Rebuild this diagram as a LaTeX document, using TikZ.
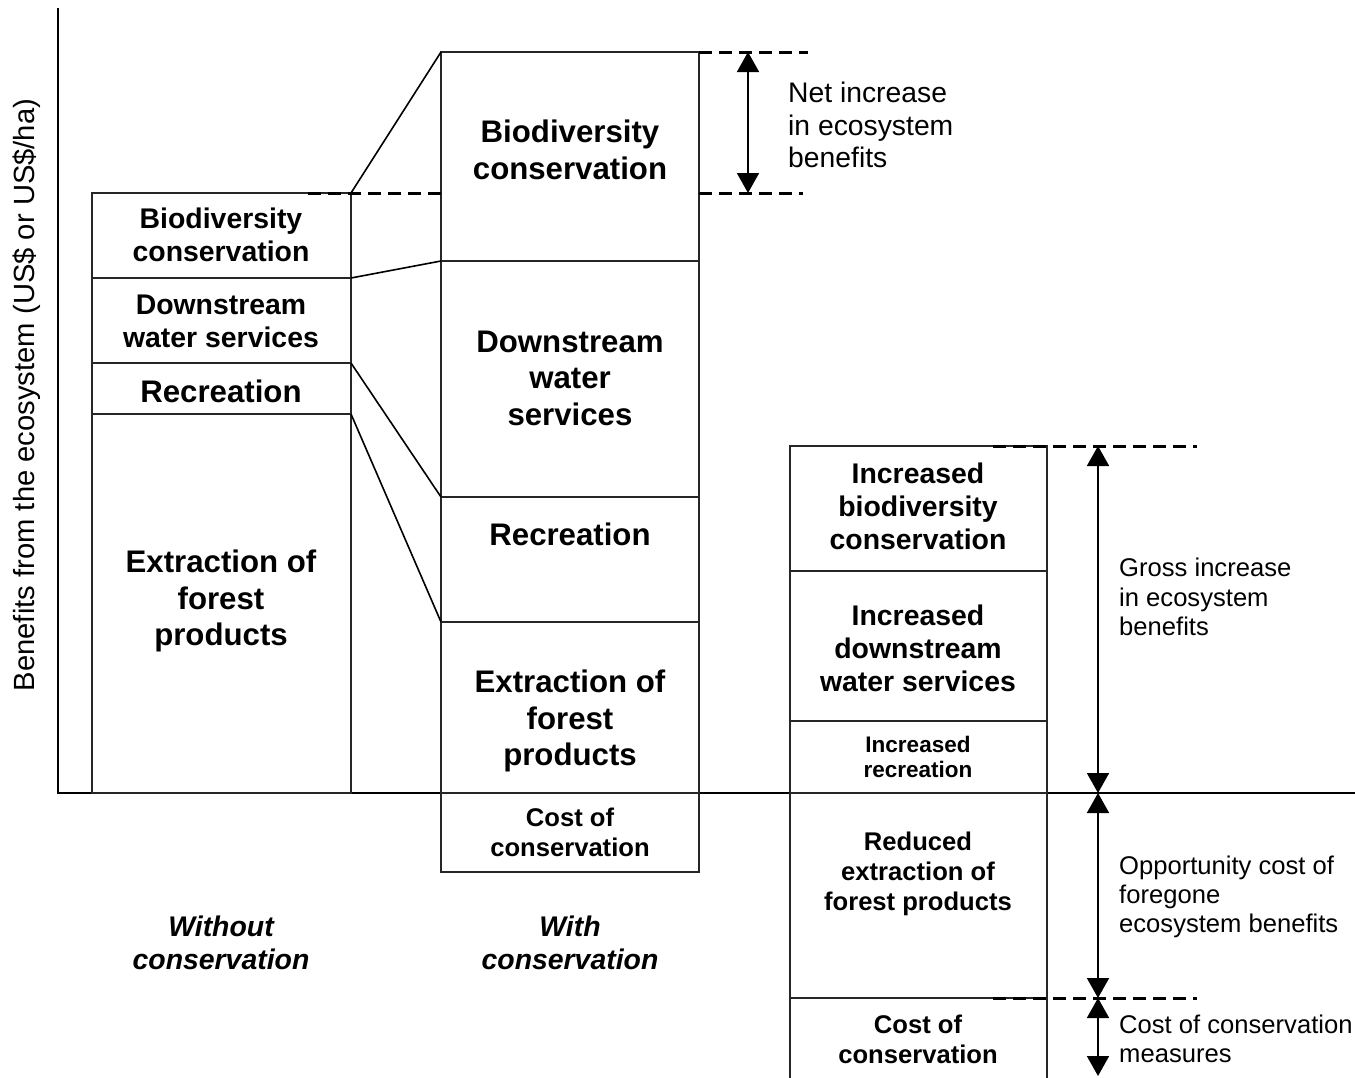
\documentclass[tikz,border=0pt]{standalone}
\usepackage{fontspec}
\setmainfont{Liberation Sans}
\usetikzlibrary{arrows.meta}
\newcommand\lblA{\fontsize{31.2}{36.5}\selectfont\bfseries}
\newcommand\lblB{\fontsize{28.4}{33}\selectfont\bfseries}
\newcommand\lblC{\fontsize{25.6}{30}\selectfont\bfseries}
\newcommand\lblD{\fontsize{22.5}{25.5}\selectfont\bfseries}
\newcommand\txtA{\fontsize{28.3}{32.5}\selectfont}
\newcommand\txtB{\fontsize{25.6}{29.3}\selectfont}
\newcommand\txtY{\fontsize{29.2}{33}\selectfont}
\begin{document}
\begin{tikzpicture}[x=1pt,y=-1pt,
  box/.style={draw=black!85,line width=1.6pt,inner sep=0pt,outer sep=0pt,anchor=north west},
  conn/.style={draw=black,line width=1.6pt},
  guide/.style={draw=black,line width=3pt,dash pattern=on 13pt off 7pt},
  dimarrow/.style={draw=black,line width=1.8pt,{Triangle[length=20pt,width=22pt]}-{Triangle[length=20pt,width=22pt]}},
  boxtext/.style={align=center,inner sep=0pt},
  note/.style={align=left,inner sep=0pt,anchor=west,font=\txtB}]
\useasboundingbox (0,0) rectangle (1355,1077);

% axes
\coordinate (ytop) at (58,8);
\coordinate (orig) at (58,793);
\coordinate (xend) at (1355,793);
\draw[line width=1.8pt] (ytop) -- (orig) -- (xend);
\node[rotate=90,inner sep=0pt,font=\txtY] (ylab) at (27,395) {Benefits from the ecosystem (US\$ or US\$/ha)};

% column without conservation
\node[box,minimum width=259pt,minimum height=85pt]  (L1) at (92,193) {};
\node[box,minimum width=259pt,minimum height=85pt]  (L2) at (92,278) {};
\node[box,minimum width=259pt,minimum height=51pt]  (L3) at (92,363) {};
\node[box,minimum width=259pt,minimum height=379pt] (L4) at (92,414) {};

% column with conservation
\node[box,minimum width=258pt,minimum height=209pt] (M1) at (441,52) {};
\node[box,minimum width=258pt,minimum height=236pt] (M2) at (441,261) {};
\node[box,minimum width=258pt,minimum height=125pt] (M3) at (441,497) {};
\node[box,minimum width=258pt,minimum height=171pt] (M4) at (441,622) {};
\node[box,minimum width=258pt,minimum height=79pt]  (M5) at (441,793) {};

% column of changes
\node[box,minimum width=257pt,minimum height=125pt] (R1) at (790,446) {};
\node[box,minimum width=257pt,minimum height=150pt] (R2) at (790,571) {};
\node[box,minimum width=257pt,minimum height=72pt]  (R3) at (790,721) {};
\node[box,minimum width=257pt,minimum height=205pt] (R4) at (790,793) {};
\node[box,minimum width=257pt,minimum height=100pt] (R5) at (790,998) {};

% links between matching components
\draw[conn] (L1.north east) -- (M1.north west);
\draw[conn] (L2.north east) -- (M2.north west);
\draw[conn] (L3.north east) -- (M3.north west);
\draw[conn] (L4.north east) -- (M4.north west);

% dashed reference levels
\coordinate (g1a) at (308,193);
\coordinate (g1b) at (441,193);
\coordinate (g2a) at (699,193);
\coordinate (g2b) at (803,193);
\coordinate (g3a) at (699,52);
\coordinate (g3b) at (808,52);
\coordinate (g4a) at (993,446);
\coordinate (g4b) at (1197,446);
\coordinate (g5a) at (993,998);
\coordinate (g5b) at (1197,998);
\draw[guide] (g1a) -- (g1b);
\draw[guide] (g2a) -- (g2b);
\draw[guide] (g3a) -- (g3b);
\draw[guide] (g4a) -- (g4b);
\draw[guide] (g5a) -- (g5b);

% dimension arrows
\coordinate (a1) at (748,52);
\coordinate (a2) at (748,193);
\coordinate (b1) at (1098,446);
\coordinate (b2) at (1098,793);
\coordinate (b3) at (1098,998);
\coordinate (b4) at (1098,1076);
\draw[dimarrow] (a1) -- (a2);
\draw[dimarrow] (b1) -- (b2);
\draw[dimarrow] (b2) -- (b3);
\draw[dimarrow] (b3) -- (b4);

% labels, without conservation
\node[boxtext,font=\lblB] (tL1) at (221,235) {Biodiversity\\conservation};
\node[boxtext,font=\lblB] (tL2) at (221,321) {Downstream\\water services};
\node[boxtext,font=\lblA] (tL3) at (221,391) {Recreation};
\node[boxtext,font=\lblA] (tL4) at (221,601) {Extraction of\\forest\\products};

% labels, with conservation
\node[boxtext,font=\lblA] (tM1) at (570,150) {Biodiversity\\conservation};
\node[boxtext,font=\lblA] (tM2) at (570,378) {Downstream\\water\\services};
\node[boxtext,font=\lblA] (tM3) at (570,534) {Recreation};
\node[boxtext,font=\lblA] (tM4) at (570,721) {Extraction of\\forest\\products};
\node[boxtext,font=\lblC] (tM5) at (570,832) {Cost of\\conservation};

% labels, changes
\node[boxtext,font=\lblB] (tR1) at (918,506) {Increased\\biodiversity\\conservation};
\node[boxtext,font=\lblB] (tR2) at (918,648) {Increased\\downstream\\water services};
\node[boxtext,font=\lblD] (tR3) at (918,757) {Increased\\recreation};
\node[boxtext,font=\lblC] (tR4) at (918,874) {Reduced\\extraction of\\forest products};
\node[boxtext,font=\lblC] (tR5) at (918,1039) {Cost of\\conservation};

% column captions
\node[boxtext,font=\lblB\itshape] (cap1) at (221,943) {Without\\conservation};
\node[boxtext,font=\lblB\itshape] (cap2) at (570,943) {With\\conservation};

% annotations
\node[note,font=\txtA] (nNet) at (788,125) {Net increase\\in ecosystem\\benefits};
\node[note] (nGross) at (1119,597) {Gross increase\\in ecosystem\\benefits};
\node[note] (nOpp) at (1119,897) {Opportunity cost of\\foregone\\ecosystem benefits};
\node[note] (nCost) at (1119,1039) {Cost of conservation\\measures};
\end{tikzpicture}
\end{document}
